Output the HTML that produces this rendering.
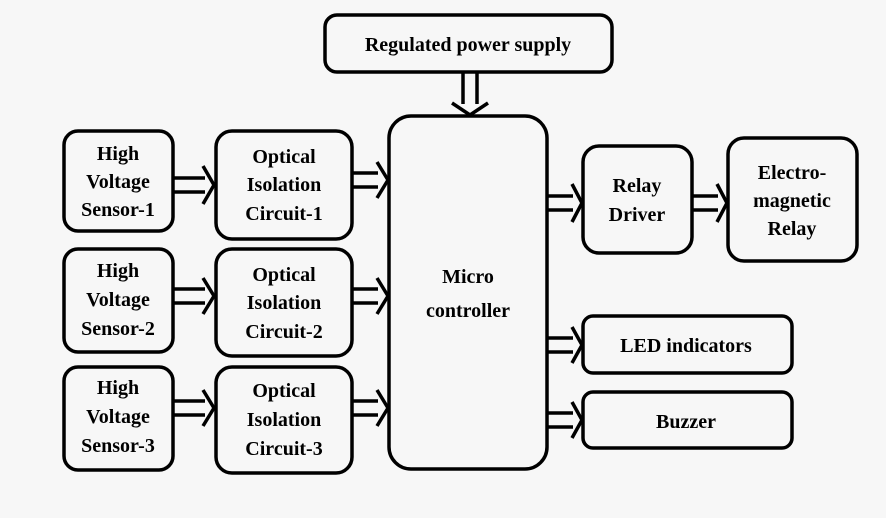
<!DOCTYPE html>
<html><head><style>
body{margin:0;background:#f7f7f7;}
svg{display:block}
text{font-family:"Liberation Serif",serif;font-weight:bold;font-size:20px;fill:#000;text-anchor:middle}
rect{fill:#f7f7f7;stroke:#000;stroke-width:3.5}
.a{fill:none;stroke:#000;stroke-width:3.5}
</style></head><body>
<svg width="886" height="518" viewBox="0 0 886 518">
<rect x="325" y="15" width="287" height="57" rx="12"/>
<text x="468" y="51">Regulated power supply</text>
<rect x="389" y="116" width="158" height="353" rx="22"/>
<text x="468" y="283" font-size="25">Micro</text>
<text x="468" y="317" font-size="25">controller</text>

<rect x="64" y="131" width="109" height="100" rx="14"/>
<text x="118" y="160">High</text><text x="118" y="188">Voltage</text><text x="118" y="216">Sensor-1</text>
<rect x="216" y="131" width="136" height="108" rx="16"/>
<text x="284" y="163">Optical</text><text x="284" y="191">Isolation</text><text x="284" y="220">Circuit-1</text>

<rect x="64" y="249" width="109" height="103" rx="14"/>
<text x="118" y="277">High</text><text x="118" y="306">Voltage</text><text x="118" y="335">Sensor-2</text>
<rect x="216" y="249" width="136" height="107" rx="16"/>
<text x="284" y="281">Optical</text><text x="284" y="309">Isolation</text><text x="284" y="338">Circuit-2</text>

<rect x="64" y="367" width="109" height="103" rx="14"/>
<text x="118" y="394">High</text><text x="118" y="423">Voltage</text><text x="118" y="452">Sensor-3</text>
<rect x="216" y="367" width="136" height="106" rx="16"/>
<text x="284" y="397">Optical</text><text x="284" y="426">Isolation</text><text x="284" y="455">Circuit-3</text>

<rect x="583" y="146" width="109" height="107" rx="16"/>
<text x="637" y="192">Relay</text><text x="637" y="221">Driver</text>
<rect x="728" y="138" width="129" height="123" rx="16"/>
<text x="792" y="179">Electro-</text><text x="792" y="207">magnetic</text><text x="792" y="235">Relay</text>
<rect x="583" y="316" width="209" height="57" rx="10"/>
<text x="686" y="352">LED indicators</text>
<rect x="583" y="392" width="209" height="56" rx="10"/>
<text x="686" y="428">Buzzer</text>

<g class="a">
<path d="M174 178H205M174 192H205M203 166L214 185L203 204"/>
<path d="M353 173H378M353 187H378M377 162L388 180L377 198"/>
<path d="M174 289H205M174 303H205M203 278L214 296L203 314"/>
<path d="M353 289H378M353 303H378M377 278L388 296L377 314"/>
<path d="M174 401H205M174 415H205M203 390L214 408L203 426"/>
<path d="M353 401H378M353 415H378M377 390L388 408L377 426"/>
<path d="M548 196H573M548 210H573M572 184L582 203L572 222"/>
<path d="M693 196H718M693 210H718M717 184L727 203L717 222"/>
<path d="M548 338H573M548 352H573M572 327L582 345L572 363"/>
<path d="M548 413H573M548 427H573M572 402L582 420L572 438"/>
<path d="M463 73V104M477 73V104M452 103L470 115L488 103"/>
</g>
</svg>
</body></html>
